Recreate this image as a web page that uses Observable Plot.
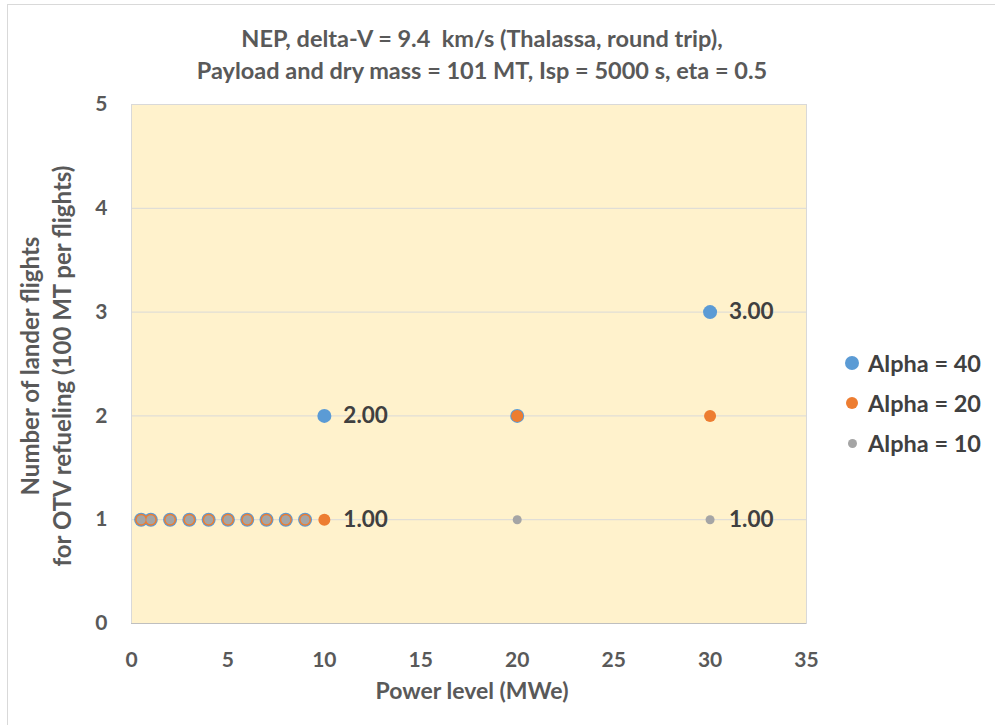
<!DOCTYPE html>
<html>
<head>
<meta charset="utf-8">
<script src="https://cdn.jsdelivr.net/npm/d3@7"></script>
<script src="https://cdn.jsdelivr.net/npm/@observablehq/plot@0.6"></script>
<style>
  html, body { margin: 0; padding: 0; background: #fff; overflow: hidden; }
  #wrap { position: relative; width: 995px; height: 725px; font-family: Lato, "Open Sans", sans-serif; color: #595959; overflow: hidden; }
  #outline { position: absolute; left: 7px; top: 4px; width: 1100px; height: 900px; border: 1px solid #D9D9D9; box-sizing: border-box; }
  #title { position: absolute; left: 0; top: 22px; width: 964px; text-align: center; font-size: 23.5px; font-weight: 700; line-height: 32px; color: #595959; white-space: pre; }
  #chart { position: absolute; left: 0; top: 90px; }
  #xlabel { position: absolute; left: 272px; width: 400px; top: 674px; text-align: center; font-size: 23px; font-weight: 700; line-height: 32px; color: #595959; }
  #ylabel { position: absolute; left: 46px; top: 366px; width: 600px; height: 64px; margin-left: -300px; margin-top: -32px; transform: rotate(-90deg); text-align: center; font-size: 24px; font-weight: 700; line-height: 32px; color: #595959; }
  #legend { position: absolute; left: 838px; top: 348px; font-size: 23.5px; font-weight: 700; color: #404040; }
  .item { position: relative; height: 40px; line-height: 30px; padding-left: 30px; white-space: nowrap; }
  .sw { position: absolute; border-radius: 50%; }
</style>
</head>
<body>
<div id="wrap">
  <div id="outline"></div>
  <div id="title"></div>
  <div id="chart"></div>
  <div id="ylabel"></div>
  <div id="xlabel"></div>
  <div id="legend"></div>
</div>
<script>
// ---- data ----
const titleLines = [
  "NEP, delta-V = 9.4  km/s (Thalassa, round trip),",
  "Payload and dry mass = 101 MT, Isp = 5000 s, eta = 0.5"
];
const power = [0.5, 1, 2, 3, 4, 5, 6, 7, 8, 9, 10, 20, 30];
const alpha40 = [1, 1, 1, 1, 1, 1, 1, 1, 1, 1, 2, 2, 3];
const alpha20 = [1, 1, 1, 1, 1, 1, 1, 1, 1, 1, 1, 2, 2];
const alpha10 = [1, 1, 1, 1, 1, 1, 1, 1, 1, 1, null, 1, 1];
const seriesNames = ["Alpha = 40", "Alpha = 20", "Alpha = 10"];
const seriesColors = ["#5B9BD5", "#ED7D31", "#A5A5A5"];
const seriesRadius = [7, 6, 4.5];
// data labels: [series index, power]
const labelSeries = [0, 0, 1, 2];
const labelPower = [10, 30, 10, 30];
const xTicks = [0, 5, 10, 15, 20, 25, 30, 35];
const yTicks = [0, 1, 2, 3, 4, 5];
const xLabel = "Power level (MWe)";
const yLabelLines = ["Number of lander flights", "for OTV refueling (100 MT per flights)"];

// ---- build ----
const seriesValues = [alpha40, alpha20, alpha10];
const series = seriesNames.map((name, i) => ({
  name, color: seriesColors[i], r: seriesRadius[i],
  data: power.map((p, j) => ({x: p, y: seriesValues[i][j]})).filter(d => d.y != null)
}));
const labels = labelSeries.map((s, k) => {
  const j = power.indexOf(labelPower[k]);
  return {x: labelPower[k], y: seriesValues[s][j]};
});

const titleEl = document.getElementById("title");
titleLines.forEach(t => { const d = document.createElement("div"); d.textContent = t; titleEl.appendChild(d); });
const yEl = document.getElementById("ylabel");
yLabelLines.forEach(t => { const d = document.createElement("div"); d.textContent = t; yEl.appendChild(d); });
document.getElementById("xlabel").textContent = xLabel;

const font = "Lato, 'Open Sans', sans-serif";
const chart = Plot.plot({
  width: 995,
  height: 635,
  marginTop: 14,
  marginBottom: 102,
  marginLeft: 131,
  marginRight: 189,
  style: {fontFamily: font, fontSize: "21px", fontWeight: 700, color: "#595959", background: "transparent"},
  x: {domain: [0, 35], ticks: xTicks, tickSize: 0, tickPadding: 29, label: null, tickFormat: d => String(d)},
  y: {domain: [0, 5], ticks: yTicks, tickSize: 0, tickPadding: 24, label: null, tickFormat: d => String(d)},
  marks: [
    Plot.frame({fill: "#FFF2CC", stroke: "#D9D9D9"}),
    Plot.gridY(yTicks.filter(d => d > 0), {stroke: "#D9D9D9", strokeOpacity: 1}),
    Plot.ruleY([0], {stroke: "#BFBFBF", strokeWidth: 1.2}),
    ...series.map(s => Plot.dot(s.data, {x: "x", y: "y", r: s.r, fill: s.color, stroke: null})),
    Plot.text(labels, {x: "x", y: "y", text: d => d.y.toFixed(2), dx: 19, textAnchor: "start", fontSize: 22.5, fontWeight: 700, fill: "#404040"})
  ]
});
document.getElementById("chart").appendChild(chart);

const legend = document.getElementById("legend");
series.forEach(s => {
  const it = document.createElement("div");
  it.className = "item";
  const sw = document.createElement("span");
  sw.className = "sw";
  sw.style.width = sw.style.height = (2 * s.r) + "px";
  sw.style.left = (14 - s.r) + "px";
  sw.style.top = (15 - s.r) + "px";
  sw.style.background = s.color;
  it.appendChild(sw);
  it.appendChild(document.createTextNode(s.name));
  legend.appendChild(it);
});
</script>
</body>
</html>
